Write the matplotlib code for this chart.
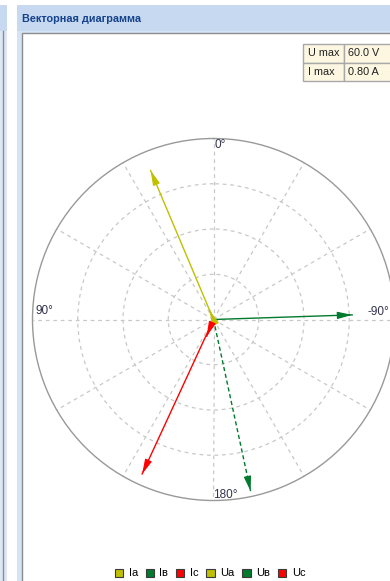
import numpy as np
import matplotlib
matplotlib.use("Agg")
import matplotlib.pyplot as plt
from matplotlib.patches import Rectangle, Patch

plt.rcParams['font.family'] = ['Liberation Sans', 'DejaVu Sans']

# phasor data: angle in degrees (0 at top, counterclockwise), magnitude in V or A
names = ['Ia', 'Iв', 'Ic', 'Ua', 'Uв', 'Uc']
angles_deg = [23.0, -167.8, 158.0, 22.9, -88.1, 155.2]
magnitudes = [0.044, 0.776, 0.08, 53.6, 46.0, 56.4]
colors = ['#c0c000', '#007a2e', '#ff0000', '#c0c000', '#007a2e', '#ff0000']
styles = ['-', (0, (3, 2)), '-', '-', '-', '-']
U_MAX = 60.0
I_MAX = 0.80
table_rows = [('U max', f'{U_MAX:.1f} V'), ('I max', f'{I_MAX:.2f} A')]

W, H = 390, 581
fig = plt.figure(figsize=(W / 100, H / 100), dpi=100)

# window chrome drawn in pixel coordinates
bg = fig.add_axes([0, 0, 1, 1])
bg.set_xlim(0, W)
bg.set_ylim(H, 0)
bg.axis('off')
bg.add_patch(Rectangle((0, 5), 6.5, 26, color='#c6d9f0', lw=0))
bg.add_patch(Rectangle((0, 31), 6.5, H, color='#dce8f6', lw=0))
bg.plot([2.5, 2.5], [31, H], color='#8c8c8c', lw=1)
bg.add_patch(Rectangle((16.5, 5), W, 26, color='#c6d9f0', lw=0))
bg.add_patch(Rectangle((16.5, 31), W, H, color='#d4e3f5', lw=0))
bg.add_patch(Rectangle((22, 33), W, H, facecolor='white', edgecolor='#8c8c8c', lw=1))
bg.text(22, 18.5, 'Векторная диаграмма', color='#15428b', fontsize=7.8,
        fontweight='bold', ha='left', va='center')

# limits table
tx0, tx1, tx2 = 302.5, 344, 392
ty = [44, 62.5, 81]
for i, (k, v) in enumerate(table_rows):
    bg.add_patch(Rectangle((tx0, ty[i]), tx1 - tx0, ty[i + 1] - ty[i],
                           facecolor='#fdf7e2', edgecolor='#a8a8a8', lw=1))
    bg.add_patch(Rectangle((tx1, ty[i]), tx2 - tx1, ty[i + 1] - ty[i],
                           facecolor='#fdf7e2', edgecolor='#a8a8a8', lw=1))
    ym = (ty[i] + ty[i + 1]) / 2
    bg.text(tx0 + 5, ym, k, fontsize=7.8, color='#202020', va='center', ha='left')
    bg.text(tx1 + 4, ym, v, fontsize=7.8, color='#202020', va='center', ha='left')

# polar diagram
cx, cy, R = 213.5, 319.5, 181
ax = fig.add_axes([(cx - R) / W, (H - cy - R) / H, 2 * R / W, 2 * R / H],
                  projection='polar')
ax.set_theta_zero_location('N')
ax.set_theta_direction(1)
ax.set_ylim(0, 1)
ax.set_yticks([0.25, 0.5, 0.75])
ax.set_yticklabels([])
ax.set_xticks(np.deg2rad(np.arange(0, 360, 30)))
ax.set_xticklabels([])
ax.tick_params(length=0)
ax.grid(True, color='#c8c8c8', linestyle=(0, (3, 3)), lw=0.9)
ax.spines['polar'].set_color('#999999')
ax.spines['polar'].set_linewidth(1)
ax.patch.set_alpha(0)

for lbl, th, dx, dy, ha, va in [('0°', 0, 1, -1, 'left', 'top'),
                                 ('90°', 90, 3, 2, 'left', 'bottom'),
                                 ('-90°', 270, -5, 2, 'right', 'bottom'),
                                 ('180°', 180, 0, -1, 'left', 'bottom')]:
    ax.annotate(lbl, xy=(np.deg2rad(th), 1), xytext=(dx, dy),
                textcoords='offset pixels', ha=ha, va=va,
                fontsize=8.5, color='#33334d', annotation_clip=False)

for name, ang, mag, col, ls in zip(names, angles_deg, magnitudes, colors, styles):
    full = I_MAX if name.startswith('I') else U_MAX
    r = mag / full
    th = np.deg2rad(ang)
    ax.plot([th, th], [0, r], color=col, lw=1.0, linestyle=ls, zorder=3)
    start = max(r - 0.06, 0)
    ax.annotate('', xy=(th, r), xytext=(th, start),
                arrowprops=dict(arrowstyle='-|>,head_length=0.9,head_width=0.22',
                                mutation_scale=10, color=col, lw=0.8,
                                shrinkA=0, shrinkB=0), zorder=4)

handles = [Patch(facecolor=c, edgecolor='#3a3a3a', lw=0.8) for c in colors]
fig.legend(handles, names, loc='center', bbox_to_anchor=(210 / W, 7.5 / H),
           ncol=6, frameon=False, fontsize=8, handlelength=0.75,
           handleheight=0.75, handletextpad=0.5, columnspacing=0.7)

fig.savefig('out.png', dpi=100)
